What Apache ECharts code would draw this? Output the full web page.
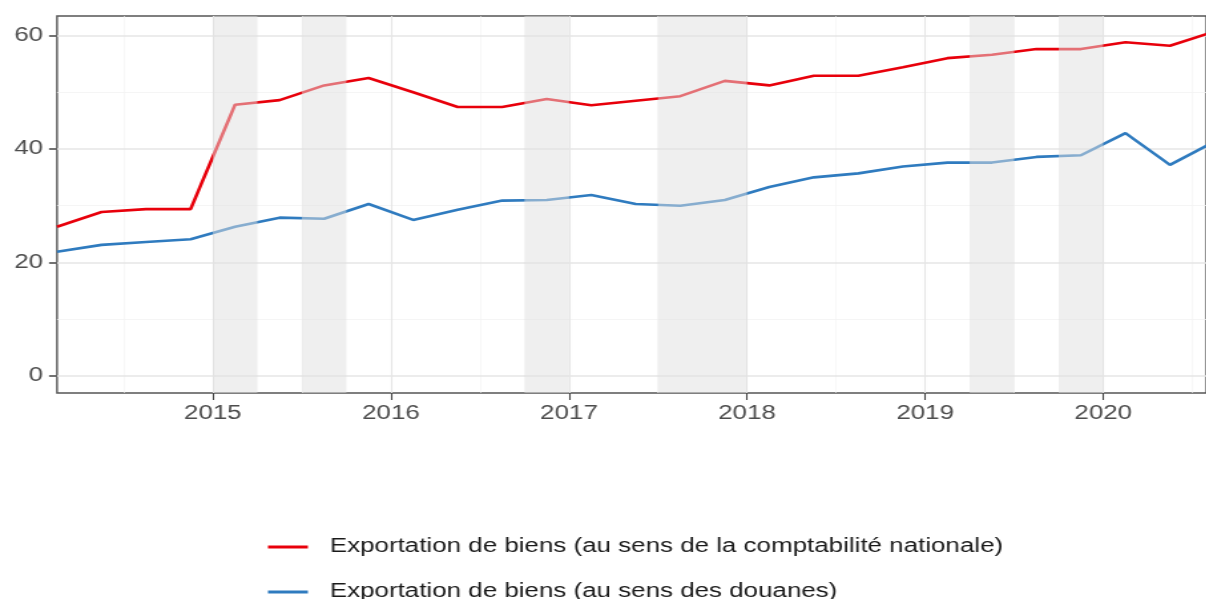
<!DOCTYPE html>
<html>
<head>
<meta charset="utf-8">
<script src="https://cdn.jsdelivr.net/npm/echarts@6/dist/echarts.min.js"></script>
<style>
html,body{margin:0;padding:0;background:#fff;overflow:hidden}
/* the reference image is stretched horizontally by ~1.33 */
#chart{width:907px;height:599px;transform:scaleX(1.33);transform-origin:0 0}
</style>
</head>
<body>
<div id="chart"></div>
<script>
// quarterly points, placed mid-quarter (decimal years)
const quarters=[2014.125,2014.375,2014.625,2014.875,2015.125,2015.375,2015.625,2015.875,
  2016.125,2016.375,2016.625,2016.875,2017.125,2017.375,2017.625,2017.875,
  2018.125,2018.375,2018.625,2018.875,2019.125,2019.375,2019.625,2019.875,
  2020.125,2020.375,2020.625];
const comptaNat=[26.3,28.9,29.4,29.4,47.8,48.6,51.2,52.5,50.0,47.4,47.4,48.8,47.7,48.5,49.3,52.0,
  51.2,52.9,52.9,54.4,56.0,56.6,57.6,57.6,58.8,58.2,60.7];
const douanes=[21.9,23.1,23.6,24.1,26.3,27.9,27.7,30.3,27.5,29.3,30.9,31.0,31.9,30.3,30.0,31.0,
  33.3,35.0,35.7,36.9,37.6,37.6,38.6,38.9,42.8,37.2,41.3];
const seriesNames=["Exportation de biens (au sens de la comptabilité nationale)",
  "Exportation de biens (au sens des douanes)"];
const yearTicks=[2015,2016,2017,2018,2019,2020];
const halfYears=[2014.5,2015.5,2016.5,2017.5,2018.5,2019.5,2020.5];
const yTicks=[0,20,40,60];
const yMinor=[10,30,50];
// shaded periods [start,end]
const bands=[[2015.0,2015.25],[2015.5,2015.75],[2016.75,2017.0],[2017.5,2018.0],[2019.25,2019.5],[2019.75,2020.0]];

const chart=echarts.init(document.getElementById("chart"));
const font="Liberation Sans, Arial, sans-serif";
const gl=(v,c,w)=>({lineStyle:{color:c,width:w,type:"solid"},label:{show:false},...v});
const legendBase={orient:"vertical",left:196.5,itemWidth:30,itemHeight:3,icon:"rect",
  textStyle:{fontSize:19.5,fontFamily:font,color:"#1a1a1a",padding:[0,0,0,11.5]}};

chart.setOption({
  animation:false,
  grid:{left:42.86,right:-2,top:16,bottom:206,show:true,borderColor:"#555",borderWidth:1.4,backgroundColor:"#fff"},
  xAxis:{
    type:"value",min:2014.125,max:2020.579,
    axisLine:{show:false,onZero:false},
    splitLine:{show:false},
    axisTick:{show:true,customValues:yearTicks,length:7,lineStyle:{color:"#444",width:1.1}},
    axisLabel:{customValues:yearTicks,color:"#4d4d4d",fontSize:19.5,fontFamily:font,margin:11,formatter:v=>String(v)}
  },
  yAxis:{
    type:"value",min:-3,max:63.43,
    axisLine:{show:false,onZero:false},
    splitLine:{show:false},
    axisTick:{show:true,customValues:yTicks,length:6,lineStyle:{color:"#444",width:1.5}},
    axisLabel:{customValues:yTicks,color:"#4d4d4d",fontSize:19.5,fontFamily:font,margin:10.5}
  },
  legend:[
    {...legendBase,top:532,data:[seriesNames[0]]},
    {...legendBase,top:577,data:[seriesNames[1]]}
  ],
  series:[
    {
      type:"line",z:1,silent:true,data:[],
      markLine:{silent:true,symbol:"none",animation:false,z:1,
        data:[
          ...yMinor.map(v=>gl({yAxis:v},"#f3f3f3",0.8)),
          ...halfYears.map(v=>gl({xAxis:v},"#f3f3f3",0.6)),
          ...yTicks.map(v=>gl({yAxis:v},"#e6e6e6",1.5)),
          ...yearTicks.map(v=>gl({xAxis:v},"#e6e6e6",1.1))
        ]}
    },
    {
      name:seriesNames[0],type:"line",z:3,showSymbol:false,symbol:"none",
      color:"#e8000b",lineStyle:{width:2.6,color:"#e8000b"},
      data:quarters.map((q,i)=>[q,comptaNat[i]])
    },
    {
      name:seriesNames[1],type:"line",z:3,showSymbol:false,symbol:"none",
      color:"#2f7bbf",lineStyle:{width:2.6,color:"#2f7bbf"},
      data:quarters.map((q,i)=>[q,douanes[i]])
    },
    {
      type:"line",z:6,silent:true,data:[],
      markArea:{silent:true,animation:false,z:6,
        itemStyle:{color:"#e0e0e0",opacity:0.5},
        data:bands.map(b=>[{xAxis:b[0]},{xAxis:b[1]}])}
    }
  ]
});
</script>
</body>
</html>
